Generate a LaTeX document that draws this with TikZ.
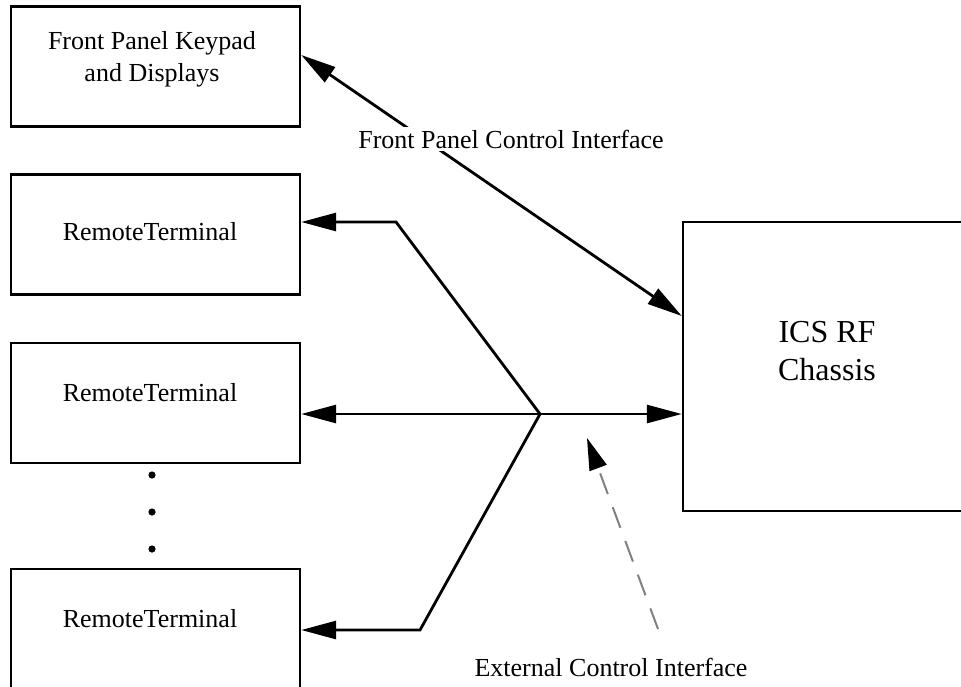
\documentclass[tikz,border=0pt]{standalone}
\usepackage{fontspec}
\setmainfont{Liberation Serif}
\usepackage{tikz}
\usetikzlibrary{arrows.meta}

\begin{document}
\begin{tikzpicture}[x=0.5pt,y=-0.5pt,
		box/.style={draw,line width=1.2pt,minimum width=144.5pt,minimum height=60pt,inner sep=0pt},
		txt/.style={font=\fontsize{13}{16}\selectfont,align=center,inner sep=1pt},
		conn/.style={line width=1.4pt},
		tip/.tip={Triangle[length=17.5pt,width=9pt]},
		extconn/.style={gray,line width=1pt,dash pattern=on 11pt off 7pt,-{Triangle[length=16pt,width=9pt,color=black]}}]
		  \clip (0,0) rectangle (961,686);
		  \node[box] (fp) at (155.5,66.5) {};
		  \node[txt] at (152,59) {Front Panel Keypad\\and Displays};
		  \foreach \y /\alph/\ty in {
		  		234.5/rt1/232,
		  		403/rt2/393,
		  		629/rtn/619
		  }{
		  	\node[box] (\alph) at (155.5,\y) {};
		  	\node[txt] at (150,\ty) {RemoteTerminal};
		  }
		  \foreach \y in {475,512,549}%
		  {%
		   \fill (152,\y) circle[radius=1.8pt];%
		  }
		  \node[box,minimum width=144pt,minimum height=144.5pt] (ics) at (827,366.5) {};
		  \node[txt,font=\fontsize{16}{19}\selectfont] at (827,351) {ICS RF\\Chassis};
		  \coordinate (j) at (540,414);
		  \coordinate (b1) at (396,222);
		  \coordinate (bn) at (420,630);
		  \coordinate (ext) at (658,629);
		  \coordinate (exttip) at (587,438);
		  \draw[conn,tip-tip] ([yshift=5.75pt]fp.east) -- ([yshift=25.25pt]ics.west);
		  \node[txt,fill=white,inner sep=1.5pt] (fpci) at (511,139) {Front Panel Control Interface};
		  \draw[conn,tip-] (rt1.east |- b1) -- (b1) -- (j);
		  \draw[conn,tip-tip] (rt2.east |- j) -- (ics.west |- j);
		  \draw[conn,tip-] (rtn.east |- bn) -- (bn) -- (j);
		  \draw[extconn] (ext) -- (exttip);
		  \node[txt] (eci) at (611,667) {External Control Interface};
		 \end{tikzpicture}
\end{document}
